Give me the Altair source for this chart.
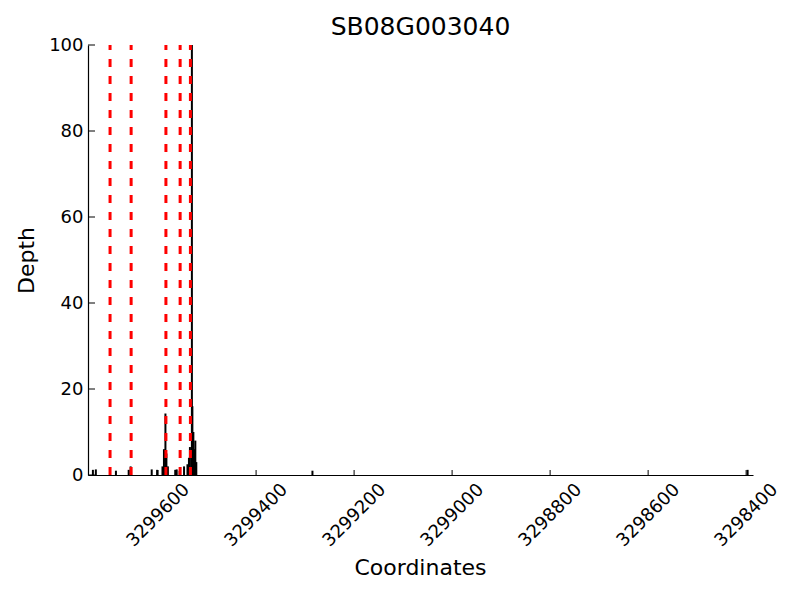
import altair as alt
import pandas as pd

# Depth bars (coordinate, depth)
coords = [3299733, 3299727, 3299686, 3299660, 3299656, 3299613, 3299602,
          3299591, 3299588, 3299585, 3299583, 3299580, 3299565, 3299562,
          3299556, 3299547, 3299540, 3299537, 3299535, 3299531, 3299530,
          3299528, 3299526, 3299524, 3299522, 3299285, 3298397]
depths = [1.2, 1.3, 1.0, 1.2, 2.0, 1.3, 1.2,
          2.0, 6.0, 14.3, 5.0, 2.0, 1.2, 1.3,
          1.0, 2.0, 2.5, 4.0, 6.5, 100, 16.0,
          10.0, 6.0, 8.0, 3.0, 1.0, 1.2]

# red dashed markers
red_lines = [3299698, 3299655, 3299584, 3299555, 3299534]

x_ticks = [3299600, 3299400, 3299200, 3299000, 3298800, 3298600, 3298400]
y_ticks = [0, 20, 40, 60, 80, 100]

x_domain = [3299743, 3298386]
y_domain = [0, 100]

title_text = "SB08G003040"

W, H = 665, 430
FONT = "DejaVu Sans"

bars_df = pd.DataFrame({"coord": coords, "depth": depths})
red_df = pd.DataFrame({"coord": red_lines})
xt_df = pd.DataFrame({"coord": x_ticks})
yt_df = pd.DataFrame({"depth": y_ticks})

xscale = alt.Scale(domain=x_domain, nice=False, zero=False)
yscale = alt.Scale(domain=y_domain, nice=False)

xaxis = alt.Axis(values=x_ticks, format="d", labelAngle=-45, labelAlign="center",
                 labelBaseline="middle", labelPadding=40, tickSize=0, grid=False,
                 labelFont=FONT, labelFontSize=18, labelColor="black",
                 domainColor="black", domainWidth=1.2,
                 title="Coordinates", titleFont=FONT, titleFontSize=22,
                 titleFontWeight="normal", titleColor="black",
                 titleX=332, titleY=92, titleAlign="center", titleBaseline="middle",
                 labelOverlap=False)
yaxis = alt.Axis(values=y_ticks, tickSize=0, grid=False, labelPadding=5,
                 labelFont=FONT, labelFontSize=18, labelColor="black",
                 domainColor="black", domainWidth=1.2,
                 title="Depth", titleFont=FONT, titleFontSize=22,
                 titleFontWeight="normal", titleColor="black",
                 titleX=-62, titleY=215, titleAngle=-90, titleAlign="center",
                 titleBaseline="middle", labelOverlap=False)

bars = alt.Chart(bars_df).mark_rule(color="black", strokeWidth=2).encode(
    x=alt.X("coord:Q", scale=xscale, axis=xaxis),
    y=alt.Y("depth:Q", scale=yscale, axis=yaxis),
    y2=alt.datum(0),
)

reds = alt.Chart(red_df).mark_rule(color="#ff0000", strokeWidth=3,
                                    strokeDash=[8, 9]).encode(
    x=alt.X("coord:Q", scale=xscale),
    y=alt.value(H),
    y2=alt.value(0),
)

xt = alt.Chart(xt_df).mark_rule(color="black", strokeWidth=1).encode(
    x=alt.X("coord:Q", scale=xscale),
    y=alt.value(H),
    y2=alt.value(H - 5),
)

yt = alt.Chart(yt_df).mark_rule(color="black", strokeWidth=1).encode(
    y=alt.Y("depth:Q", scale=yscale),
    x=alt.value(0),
    x2=alt.value(7),
)

title = alt.Chart(pd.DataFrame({"t": [title_text]})).mark_text(
    font=FONT, fontSize=25, color="black", align="center",
    baseline="alphabetic", clip=False,
).encode(
    x=alt.value(W / 2),
    y=alt.value(-10),
    text="t:N",
)

chart = alt.layer(bars, reds, xt, yt, title).properties(
    width=W, height=H,
    autosize=alt.AutoSizeParams(type="none"),
    padding={"left": 80, "top": 37, "right": 39, "bottom": 110},
).configure_view(stroke=None)

chart.save("out.html", embed_options={"renderer": "svg", "actions": False})
